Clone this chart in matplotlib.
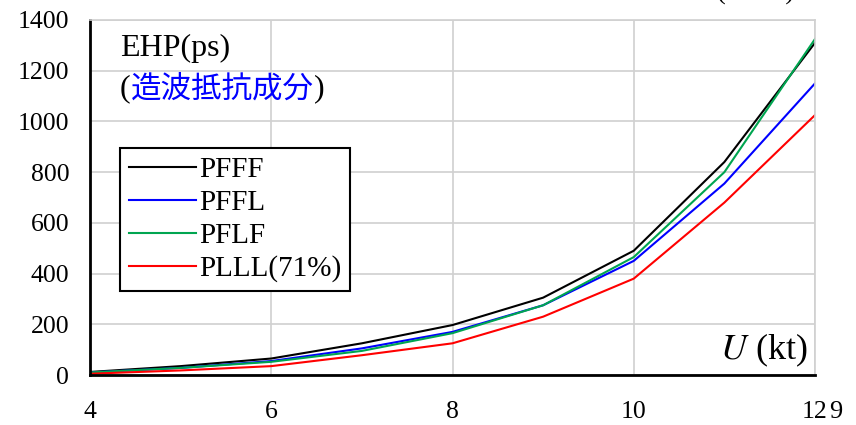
import numpy as np
import matplotlib.pyplot as plt

# 船速 U (kt)
speed = [4, 5, 6, 7, 8, 9, 10, 11, 12]

# EHP (ps), 造波抵抗成分
pfff = [12, 35, 65, 125, 197, 305, 490, 840, 1310]
pffl = [10, 28, 55, 105, 170, 275, 450, 755, 1150]
pflf = [10, 28, 52, 95, 165, 275, 465, 800, 1325]
plll = [5, 18, 35, 78, 125, 230, 380, 680, 1025]

series = [
    ('PFFF', pfff, 'black'),
    ('PFFL', pffl, '#0000ff'),
    ('PFLF', pflf, '#00a550'),
    ('PLLL(71%)', plll, '#ff0000'),
]

serif = ['Liberation Serif', 'DejaVu Serif']
cjk = ['Noto Sans CJK JP', 'DejaVu Sans']

fig = plt.figure(figsize=(8.56, 4.25), dpi=100)
ax = fig.add_axes([90 / 856, 1 - 375 / 425, 725 / 856, 355 / 425])

for name, vals, col in series:
    ax.plot(speed, vals, color=col, linewidth=1.5, label=name)

ax.set_xlim(4, 12)
ax.set_ylim(0, 1400)
ax.set_xticks([4, 6, 8, 10, 12])
ax.set_yticks(np.arange(0, 1401, 200))
ax.grid(True, color='#d0d0d0', linewidth=1.2)
ax.tick_params(length=0, labelsize=18.5)
ax.tick_params(axis='x', pad=19)
ax.tick_params(axis='y', pad=15)
for lab in ax.get_xticklabels() + ax.get_yticklabels():
    lab.set_family(serif)

for s in ['top', 'right']:
    ax.spines[s].set_color('#d0d0d0')
    ax.spines[s].set_linewidth(1.2)
for s in ['left', 'bottom']:
    ax.spines[s].set_color('black')
    ax.spines[s].set_linewidth(2)

leg = ax.legend(loc='upper left', bbox_to_anchor=(30 / 725, 1 - 128 / 355),
                frameon=True, fancybox=False, edgecolor='black', framealpha=1,
                prop={'family': serif, 'size': 21}, handlelength=2.3,
                handletextpad=0.1, labelspacing=0.22, borderpad=0.3,
                borderaxespad=0)
leg.get_frame().set_linewidth(1.5)

ax.text(30 / 725, 1 - 28 / 355, 'EHP(ps)', transform=ax.transAxes,
        fontsize=23, family=serif, va='center')
t1 = ax.text(30 / 725, 1 - 69 / 355, '(', transform=ax.transAxes,
             fontsize=23, family=serif, va='center')
t2 = ax.annotate('造波抵抗成分', xycoords=t1, xy=(1, 0.5), va='center',
                 fontsize=22, family=cjk, color='#0000ff')
ax.annotate(')', xycoords=t2, xy=(1, 0.5), va='center', fontsize=23,
            family=serif)

ax.text(0.99, 0.07, r'$\mathit{U}$ (kt)', transform=ax.transAxes,
        fontsize=26, family=serif, ha='right', va='center',
        math_fontfamily='stix')

fig.text(829 / 856, 0.03, '9', fontsize=19, family=serif, ha='left',
         va='center')
fig.text(0.838, 1.0, '(         )', fontsize=19, family=serif, va='baseline')

fig.savefig('out.png', dpi=100)
